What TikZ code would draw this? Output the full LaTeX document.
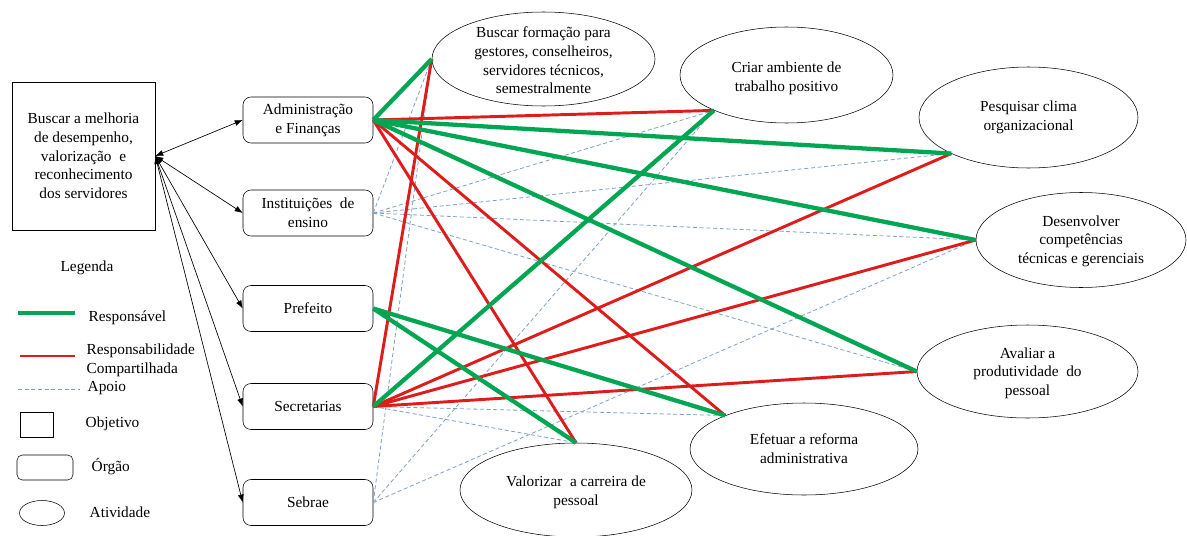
\documentclass[tikz,border=0pt]{standalone}
\usepackage{fontspec}
\setmainfont{Liberation Serif}
\usetikzlibrary{shapes.geometric,arrows.meta}

\definecolor{verdeResp}{RGB}{0,166,81}
\definecolor{vermComp}{RGB}{222,28,28}
\definecolor{azulApoio}{RGB}{125,160,200}

\begin{document}
\begin{tikzpicture}[x=0.75pt, y=-0.75pt,
	every node/.style={font=\fontsize{11.5}{14}\selectfont, align=center},
	objetivo/.style={draw, rectangle, minimum width=107.25pt, minimum height=111pt, inner sep=1pt},
	orgao/.style={draw, rounded corners=6pt, minimum width=97.5pt, minimum height=34.5pt, inner sep=1pt},
	atividade/.style={draw, ellipse, fill=white, inner sep=0pt},
	seta/.style={<->, >={Latex[length=6pt, width=4.5pt]}, line width=0.5pt},
	resp/.style={verdeResp, line width=3.2pt},
	comp/.style={vermComp, line width=2.2pt},
	apoio/.style={azulApoio, dash pattern=on 3pt off 2pt, line width=0.6pt}]

			\useasboundingbox (0,0) rectangle (1187,535);

			% Objetivo
			\node[objetivo] (obj) at (83.5,156) {Buscar a melhoria\\de desempenho,\\valorização \ e\\reconhecimento\\dos servidores};

			% Órgãos
			\node[orgao] (adm) at (308,120) {Administração\\e Finanças};
			\node[orgao] (inst) at (308,213) {Instituições \ de\\ensino};
			\node[orgao] (pref) at (308,308.5) {Prefeito};
			\node[orgao] (sec) at (308,406.5) {Secretarias};
			\node[orgao] (sebrae) at (308,502.5) {Sebrae};

			% Atividades (elipse e texto)
			\node[atividade, minimum width=167.25pt, minimum height=70.5pt] (formacao) at (543.5,59) {};
			\node (formacaoTxt) at (543.5,60.5) {Buscar formação para\\gestores, conselheiros,\\servidores técnicos,\\semestralmente};
			\node[atividade, minimum width=159.75pt, minimum height=72pt] (ambiente) at (786.5,75) {};
			\node (ambienteTxt) at (786.5,78) {Criar ambiente de\\trabalho positivo};
			\node[atividade, minimum width=164.25pt, minimum height=75.75pt] (clima) at (1028.5,117.5) {};
			\node (climaTxt) at (1028.5,117.5) {Pesquisar clima\\organizacional};
			\node[atividade, minimum width=157.5pt, minimum height=71.25pt] (competencias) at (1081,240) {};
			\node (competenciasTxt) at (1081,241) {Desenvolver\\competências\\técnicas e gerenciais};
			\node[atividade, minimum width=165.75pt, minimum height=69.75pt] (produtividade) at (1027.5,371.5) {};
			\node (produtividadeTxt) at (1027.5,373) {Avaliar a\\produtividade \ do\\pessoal};
			\node[atividade, minimum width=171pt, minimum height=69pt] (reforma) at (804,449) {};
			\node (reformaTxt) at (804,449) {Efetuar a reforma\\administrativa};
			\node[atividade, minimum width=174pt, minimum height=70.5pt] (carreira) at (576,490) {};
			\node (carreiraTxt) at (576,492.5) {Valorizar \ a carreira de\\pessoal};

			% Setas do objetivo aos órgãos
			\draw[seta] (obj.east) -- (adm.west);
			\draw[seta] (obj.east) -- (inst.west);
			\draw[seta] (obj.east) -- (pref.west);
			\draw[seta] (obj.east) -- (sec.west);
			\draw[seta] (obj.east) -- (sebrae.west);

			% Apoio
			\draw[apoio] (inst.east) -- (formacao.west);
			\draw[apoio] (inst.east) -- (ambiente.206);
			\draw[apoio] (inst.east) -- (clima.205);
			\draw[apoio] (inst.east) -- (competencias.west);
			\draw[apoio] (inst.east) -- (produtividade.west);
			\draw[apoio] (sec.east) -- (reforma.157);
			\draw[apoio] (sec.east) -- (carreira.north);
			\draw[apoio] (sebrae.east) -- (formacao.west);
			\draw[apoio] (sebrae.east) -- (ambiente.206);
			\draw[apoio] (sebrae.east) -- (competencias.west);

			% Responsabilidade compartilhada
			\draw[comp] (adm.east) -- (ambiente.206);
			\draw[comp] (adm.east) -- (reforma.157);
			\draw[comp] (adm.east) -- (carreira.north);
			\draw[comp] (sec.east) -- (formacao.west);
			\draw[comp] (sec.east) -- (clima.205);
			\draw[comp] (sec.east) -- (competencias.west);
			\draw[comp] (sec.east) -- (produtividade.west);

			% Responsável
			\draw[resp] (adm.east) -- (formacao.west);
			\draw[resp] (adm.east) -- (clima.205);
			\draw[resp] (adm.east) -- (competencias.west);
			\draw[resp] (adm.east) -- (produtividade.west);
			\draw[resp] (pref.east) -- (reforma.157);
			\draw[resp] (pref.east) -- (carreira.north);
			\draw[resp] (sec.east) -- (ambiente.206);

			% Legenda
			\node (legenda) at (87,268) {Legenda};
			\draw[resp] (18,313) -- (75,313);
			\node[anchor=west] (lresp) at (84,318) {Responsável};
			\draw[comp] (20,356) -- (75,356);
			\node[anchor=west, align=left] (lcomp) at (82,360) {Responsabilidade\\Compartilhada};
			\draw[apoio] (18,389) -- (80,389);
			\node[anchor=west] (lapoio) at (83,388) {Apoio};
			\draw (20,412) rectangle (53,437);
			\node[anchor=west] (lobj) at (81,424) {Objetivo};
			\draw[rounded corners=4pt] (17,455) rectangle (73,480);
			\node[anchor=west] (lorg) at (87,467) {Órgão};
			\draw (42,513) ellipse (22.5 and 12.5);
			\node[anchor=west] (lativ) at (85,512) {Atividade};

\end{tikzpicture}
\end{document}
